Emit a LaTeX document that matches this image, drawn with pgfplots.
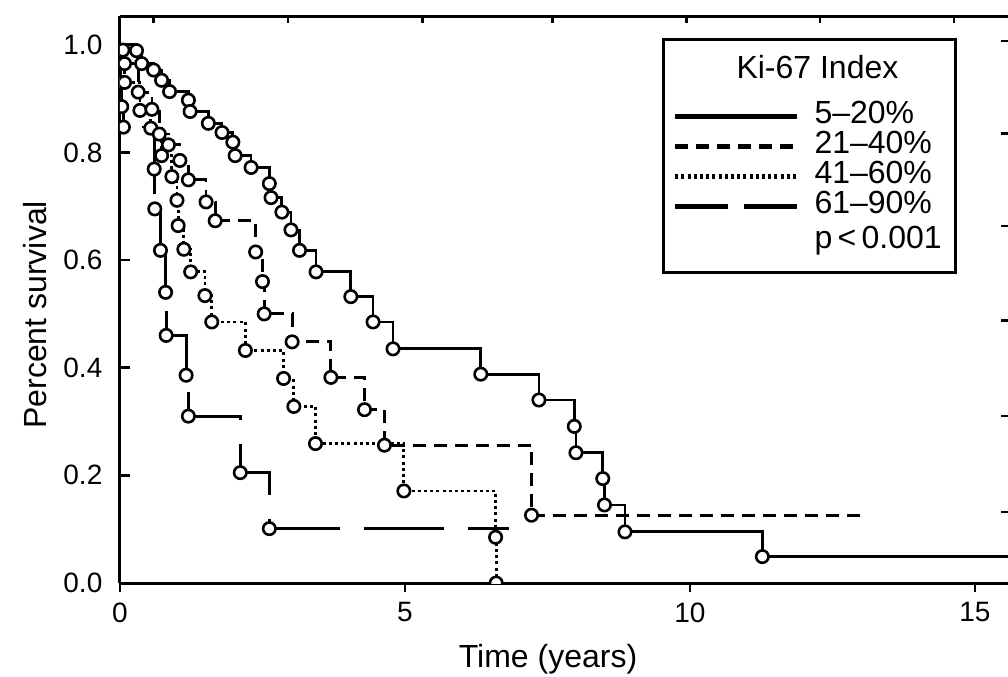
\documentclass[border=0pt]{standalone}
\usepackage{pgfplots}
\usepackage{pgfplotstable}
\pgfplotsset{compat=1.18}
\usepackage{fontspec}
\setmainfont{Liberation Sans}

\pgfplotsset{longdashleg/.style={legend image code/.code={\draw[##1, line width=2.2pt, dash pattern=on 26.5pt off 8pt] (0pt,0pt) -- (61pt,0pt);\path (69pt,0pt);}}}

\pgfplotstableread{
t s
0 1.0
0.29 0.989
0.38 0.965
0.59 0.953
0.73 0.934
0.87 0.913
1.20 0.897
1.23 0.876
1.55 0.854
1.79 0.837
1.98 0.819
2.02 0.794
2.30 0.772
2.62 0.742
2.65 0.716
2.84 0.689
3.00 0.656
3.15 0.618
3.44 0.578
4.05 0.532
4.44 0.485
4.79 0.435
6.33 0.388
7.35 0.340
7.97 0.291
8.00 0.242
8.47 0.194
8.50 0.145
8.86 0.095
11.27 0.049
15.58 0.049
}\lineA
\pgfplotstableread{
t s
0.29 0.989
0.38 0.965
0.59 0.953
0.73 0.934
0.87 0.913
1.20 0.897
1.23 0.876
1.55 0.854
1.79 0.837
1.98 0.819
2.02 0.794
2.30 0.772
2.62 0.742
2.65 0.716
2.84 0.689
3.00 0.656
3.15 0.618
3.44 0.578
4.05 0.532
4.44 0.485
4.79 0.435
6.33 0.388
7.35 0.340
7.97 0.291
8.00 0.242
8.47 0.194
8.50 0.145
8.86 0.095
11.27 0.049
}\marksA

\pgfplotstableread{
t s
0 1.0
0.08 0.965
0.32 0.912
0.56 0.880
0.69 0.834
0.85 0.814
1.05 0.785
1.20 0.749
1.51 0.708
1.67 0.673
2.38 0.615
2.50 0.560
2.53 0.500
3.02 0.448
3.70 0.382
4.29 0.322
4.64 0.256
7.22 0.126
13.0 0.126
}\lineB
\pgfplotstableread{
t s
0.08 0.965
0.32 0.912
0.56 0.880
0.69 0.834
0.85 0.814
1.05 0.785
1.20 0.749
1.51 0.708
1.67 0.673
2.38 0.615
2.50 0.560
2.53 0.500
3.02 0.448
3.70 0.382
4.29 0.322
4.64 0.256
7.22 0.126
}\marksB

\pgfplotstableread{
t s
0 1.0
0.05 0.99
0.08 0.93
0.35 0.878
0.54 0.845
0.73 0.794
0.91 0.755
1.00 0.711
1.02 0.664
1.12 0.620
1.24 0.578
1.49 0.534
1.61 0.485
2.20 0.432
2.87 0.380
3.05 0.328
3.43 0.259
4.98 0.171
6.59 0.085
6.60 0.000
}\lineC
\pgfplotstableread{
t s
0.05 0.99
0.08 0.93
0.35 0.878
0.54 0.845
0.73 0.794
0.91 0.755
1.00 0.711
1.02 0.664
1.12 0.620
1.24 0.578
1.49 0.534
1.61 0.485
2.20 0.432
2.87 0.380
3.05 0.328
3.43 0.259
4.98 0.171
6.59 0.085
6.60 0.000
}\marksC

\pgfplotstableread{
t s
0 1.0
0.01 0.93
0.03 0.885
0.06 0.847
0.60 0.769
0.61 0.695
0.71 0.618
0.80 0.540
0.81 0.460
1.16 0.386
1.20 0.310
2.11 0.205
2.62 0.101
6.82 0.101
}\lineD
\pgfplotstableread{
t s
0.01 0.93
0.03 0.885
0.06 0.847
0.60 0.769
0.61 0.695
0.71 0.618
0.80 0.540
0.81 0.460
1.16 0.386
1.20 0.310
2.11 0.205
2.62 0.101
}\marksD

\begin{document}
\begin{tikzpicture}
\pgfplotsset{common/.style={scale only axis, width=444pt, height=283.5pt,
  xmin=0, xmax=15.58, ymin=0, ymax=1.0534, at={(0,0)}, anchor=south west}}

% bottom x ticks, pointing outward
\begin{axis}[common, axis line style={draw=none}, tick align=outside,
  xtick={0,5,10,15}, xtick pos=left, xticklabels={}, ytick=\empty,
  major tick length=4.5pt, tick style={line width=1.3pt, black}]
\end{axis}

% small ticks along the top and right edges
\begin{axis}[common, axis line style={draw=none}, tick align=inside,
  xtick={0.59,2.95,5.31,7.59,9.94,12.28,14.63}, xtick pos=right, xticklabels={},
  ytick={0.132,0.310,0.488,0.663,0.835,1.007}, ytick pos=right, yticklabels={},
  major tick length=3.5pt, tick style={line width=1.2pt, black}]
\end{axis}

\begin{axis}[common,
  axis x line*=box, axis y line*=left,
  axis line style={line width=1.5pt, black},
  tick align=inside, major tick length=5pt,
  xtick={0,5,10,15}, xticklabels={0,5,10,15}, xtick style={draw=none},
  ytick={0,0.2,0.4,0.6,0.8,1.0}, yticklabels={0.0,0.2,0.4,0.6,0.8,1.0},
  ytick style={line width=1.3pt, black},
  /pgf/number format/assume math mode=true,
  tick label style={font=\fontsize{14}{16}\selectfont},
  yticklabel style={xshift=-5.3pt},
  xticklabel style={yshift=-6.3pt},
  xlabel={Time (years)}, ylabel={Percent survival},
  every axis x label/.style={at={(axis description cs:0.482,0)}, anchor=center,
     yshift=-38pt, font=\fontsize{16}{18}\selectfont},
  every axis y label/.style={at={(axis description cs:-0.0957,0.473)}, anchor=center,
     rotate=90, font=\fontsize{16}{18}\selectfont},
  clip marker paths=true,
  legend cell align=left,
  legend style={at={(axis description cs:0.6087,0.9577)}, anchor=north west,
     draw=none, fill=none, inner xsep=6pt, inner ysep=8pt,
     font=\fontsize{16}{18}\selectfont, row sep=0pt, column sep=0pt,
     nodes={inner sep=0pt, text height=11pt, text depth=4pt}},
  legend image code/.code={\draw[#1, line width=2.2pt] (0pt,0pt) -- (61pt,0pt);\path (69pt,0pt);},
]
\addlegendimage{empty legend}
\addlegendentry[text depth=11.5pt]{\makebox[0pt][l]{\hspace*{-39.5pt}Ki-67 Index}}

\addplot[const plot, black, line width=1.4pt] table[x=t,y=s]{\lineA};
\addlegendentry{5--20\%}
\addplot[const plot, black, line width=1.4pt, dash pattern=on 6.5pt off 4pt] table[x=t,y=s]{\lineB};
\addlegendentry{21--40\%}
\addplot[const plot, black, line width=1.4pt, dash pattern=on 1.5pt off 1.6pt] table[x=t,y=s]{\lineC};
\addlegendentry{41--60\%}
\addplot[const plot, black, line width=1.4pt, dash pattern=on 40pt off 12pt, longdashleg]
  table[x=t,y=s]{\lineD};
\addlegendentry{61--90\%}
\addlegendimage{empty legend}
\addlegendentry[text height=13.5pt, text depth=5pt]{p\,<\,0.001}

\pgfplotsset{cmark/.style={only marks, mark=*, mark size=3.1pt,
   mark options={fill=white, draw=black, line width=1.3pt, solid}, forget plot}}
\addplot[cmark] table[x=t,y=s]{\marksD};
\addplot[cmark] table[x=t,y=s]{\marksC};
\addplot[cmark] table[x=t,y=s]{\marksB};
\addplot[cmark] table[x=t,y=s]{\marksA};
\end{axis}
% frame of the legend
\draw[line width=1.5pt, black] (271.5pt,155.5pt) rectangle (417.5pt,271.5pt);
\pgfresetboundingbox
\path[use as bounding box] (-60pt,-46.5pt) rectangle (444pt,291.5pt);
\end{tikzpicture}
\end{document}
